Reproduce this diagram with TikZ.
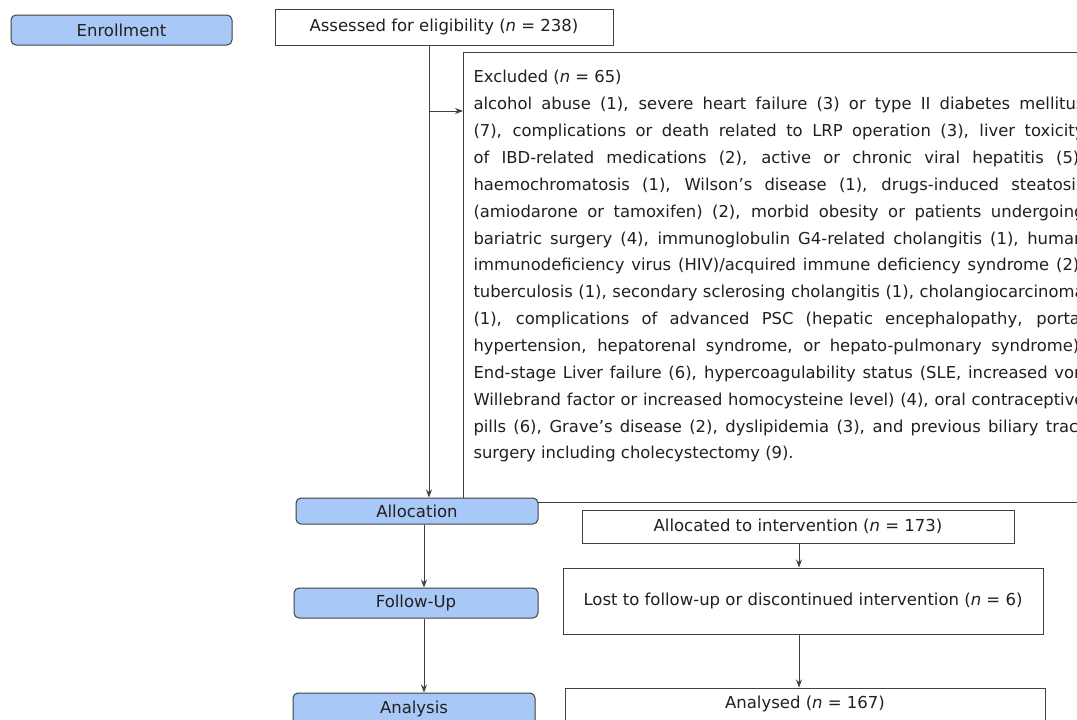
\documentclass[tikz,border=0pt]{standalone}
\usepackage{fontspec}
\setmainfont{DejaVu Sans}
\usetikzlibrary{arrows.meta}
\definecolor{stageblue}{HTML}{A8C8F8}
\definecolor{ink}{HTML}{231F20}
\definecolor{frame}{HTML}{404040}

\begin{document}
\begin{tikzpicture}[x=1pt, y=-1pt, line width=1pt, text=ink,
  font=\fontsize{16.5}{19}\selectfont,
  stage/.style={draw=frame, fill=stageblue, rounded corners=5pt, inner sep=0pt},
  box/.style={draw=frame, fill=white, inner sep=0pt},
  arr/.style={draw=frame, line width=0.8pt, -{Stealth[length=8pt,width=6pt]}}]
\useasboundingbox (0,0) rectangle (1077,720);
\clip (0,0) rectangle (1077,720);

\coordinate (split) at (429,111);
\coordinate (lx) at (424,0);
\coordinate (rx) at (799,0);

\node[stage, minimum width=221pt, minimum height=30pt] (enrol) at (121.5,30) {Enrollment};
\node[box, minimum width=338pt, minimum height=36pt] (assess) at (444,27) {Assessed for eligibility (\textit{n} = 238)};

\node[box, anchor=north west, inner xsep=10pt] (excl) at (463,52) {\parbox[t][450pt][t]{611pt}{\hyphenpenalty=10000\exhyphenpenalty=10000\tolerance=10000\hfuzz=40pt\vspace{18pt}\fontsize{16.4}{26.86}\selectfont
Excluded (\textit{n} = 65)\\
alcohol abuse (1), severe heart failure (3) or type II diabetes mellitus\linebreak
(7), complications or death related to LRP operation (3), liver toxicity\linebreak
of IBD-related medications (2), active or chronic viral hepatitis (5),\linebreak
haemochromatosis (1), Wilson's disease (1), drugs-induced steatosis\linebreak
(amiodarone or tamoxifen) (2), morbid obesity or patients undergoing\linebreak
bariatric surgery (4), immunoglobulin G4-related cholangitis (1), human\linebreak
immunodeficiency virus (HIV)/acquired immune deficiency syndrome (2),\linebreak
tuberculosis (1), secondary sclerosing cholangitis (1), cholangiocarcinoma\linebreak
(1), complications of advanced PSC (hepatic encephalopathy, portal\linebreak
hypertension, hepatorenal syndrome, or hepato-pulmonary syndrome),\linebreak
End-stage Liver failure (6), hypercoagulability status (SLE, increased von\linebreak
Willebrand factor or increased homocysteine level) (4), oral contraceptive\linebreak
pills (6), Grave's disease (2), dyslipidemia (3), and previous biliary tract\linebreak
surgery including cholecystectomy (9).}};

\node[stage, minimum width=242pt, minimum height=26pt] (alloc) at (417,511) {Allocation};
\node[stage, minimum width=244pt, minimum height=30pt] (fu) at (416,603) {Follow-Up};
\node[stage, minimum width=242pt, minimum height=32pt] (anal) at (414,709) {Analysis};

\node[box, minimum width=432pt, minimum height=33pt] (allocd) at (798,526.5) {Allocated to intervention (\textit{n} = 173)};
\node[box, minimum width=480pt, minimum height=66pt] (lost) at (803,601) {Lost to follow-up or discontinued intervention (\textit{n} = 6)};
\node[box, minimum width=480pt, minimum height=32pt] (analysed) at (805,704) {Analysed (\textit{n} = 167)};

\draw[arr] (assess.south -| split) -- (alloc.north -| split);
\draw[arr] (split) -- (split -| excl.west);
\draw[arr] (alloc.south -| lx) -- (fu.north -| lx);
\draw[arr] (fu.south -| lx) -- (anal.north -| lx);
\draw[arr] (allocd.south -| rx) -- (lost.north -| rx);
\draw[arr] (lost.south -| rx) -- (analysed.north -| rx);

\end{tikzpicture}
\end{document}
